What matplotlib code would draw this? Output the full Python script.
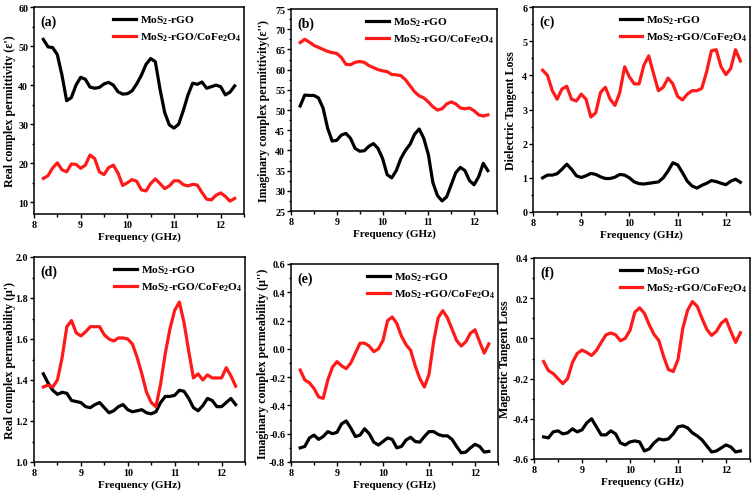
import numpy as np
import matplotlib
matplotlib.use('Agg')
import matplotlib.pyplot as plt
from matplotlib.ticker import MultipleLocator, AutoMinorLocator

plt.rcParams['font.family'] = ['Liberation Serif', 'DejaVu Serif']
plt.rcParams['font.weight'] = 'bold'
plt.rcParams['mathtext.fontset'] = 'custom'
plt.rcParams['mathtext.rm'] = 'Liberation Serif:bold'
plt.rcParams['mathtext.bf'] = 'Liberation Serif:bold'
plt.rcParams['mathtext.default'] = 'bf'
plt.rcParams['axes.unicode_minus'] = False

# frequency grid (GHz)
freq = [8.2, 8.3, 8.4, 8.5, 8.6, 8.7, 8.8, 8.9, 9.0, 9.1, 9.2, 9.3, 9.4, 9.5,
        9.6, 9.7, 9.8, 9.9, 10.0, 10.1, 10.2, 10.3, 10.4, 10.5, 10.6, 10.7,
        10.8, 10.9, 11.0, 11.1, 11.2, 11.3, 11.4, 11.5, 11.6, 11.7, 11.8, 11.9,
        12.0, 12.1, 12.2, 12.3]

# (a) real permittivity
eps1_mos = [51.7, 49.8, 49.6, 47.8, 42.5, 36.0, 36.8, 40.0, 42.0, 41.5, 39.5,
            39.2, 39.4, 40.3, 40.7, 40.0, 38.3, 37.7, 37.8, 38.5, 40.3, 42.5,
            45.3, 46.8, 46.0, 39.0, 33.0, 29.8, 29.0, 30.0, 33.5, 37.5, 40.5,
            40.2, 40.8, 39.2, 39.6, 40.0, 39.6, 37.5, 38.2, 39.8]
eps1_cfo = [16.1, 16.8, 18.8, 20.1, 18.3, 17.8, 19.8, 19.7, 18.7, 19.5, 22.1,
            21.2, 17.8, 17.1, 18.9, 19.5, 17.5, 14.3, 15.0, 15.8, 15.4, 13.2,
            12.9, 14.8, 16.0, 14.8, 13.5, 14.2, 15.5, 15.5, 14.5, 14.2, 14.6,
            14.4, 12.5, 10.8, 10.6, 11.8, 12.4, 11.5, 10.3, 11.0]

# (b) imaginary permittivity
eps2_mos = [51.0, 53.7, 53.6, 53.6, 53.0, 50.5, 45.5, 42.3, 42.5, 43.8, 44.2,
            43.0, 40.5, 39.8, 39.9, 41.0, 41.7, 40.5, 38.0, 34.0, 33.2, 35.0,
            38.0, 40.0, 41.5, 44.0, 45.3, 43.0, 39.0, 32.0, 28.8, 27.5, 28.5,
            31.5, 34.5, 35.8, 35.0, 32.5, 31.5, 33.5, 36.8, 35.0]
eps2_cfo = [66.7, 67.5, 66.8, 66.0, 65.5, 65.0, 64.5, 64.2, 64.0, 63.0, 61.3,
            61.2, 61.8, 62.0, 61.8, 61.0, 60.5, 60.0, 59.7, 59.5, 58.8, 58.7,
            58.5, 57.5, 56.0, 54.5, 53.5, 53.0, 52.0, 50.8, 50.0, 50.3, 51.5,
            52.0, 51.5, 50.5, 50.3, 50.5, 49.8, 48.8, 48.5, 48.8]

# (c) dielectric loss tangent
tan_e_mos = [1.0, 1.08, 1.08, 1.12, 1.25, 1.4, 1.25, 1.06, 1.01, 1.06, 1.13,
             1.1, 1.03, 0.98, 0.98, 1.02, 1.1, 1.08, 1.0, 0.88, 0.83, 0.82,
             0.84, 0.86, 0.88, 1.0, 1.2, 1.44, 1.38, 1.15, 0.9, 0.76, 0.7,
             0.78, 0.84, 0.92, 0.89, 0.84, 0.8, 0.9, 0.96, 0.87]
tan_e_cfo = [4.15, 4.0, 3.55, 3.3, 3.6, 3.68, 3.3, 3.25, 3.45, 3.3, 2.78, 2.9,
             3.5, 3.65, 3.3, 3.12, 3.5, 4.25, 3.95, 3.75, 3.75, 4.3, 4.57,
             4.05, 3.55, 3.65, 3.92, 3.75, 3.38, 3.28, 3.45, 3.55, 3.55, 3.62,
             4.1, 4.72, 4.75, 4.25, 4.02, 4.2, 4.75, 4.42]

# (d) real permeability
mu1_mos = [1.43, 1.385, 1.35, 1.33, 1.34, 1.335, 1.30, 1.295, 1.29, 1.27,
           1.265, 1.28, 1.29, 1.265, 1.24, 1.25, 1.27, 1.28, 1.255, 1.245,
           1.25, 1.255, 1.24, 1.235, 1.245, 1.29, 1.32, 1.32, 1.325, 1.35,
           1.345, 1.31, 1.265, 1.25, 1.275, 1.31, 1.30, 1.27, 1.27, 1.29,
           1.31, 1.28]
mu1_cfo = [1.366, 1.375, 1.366, 1.40, 1.51, 1.66, 1.69, 1.63, 1.615, 1.635,
           1.66, 1.66, 1.66, 1.62, 1.60, 1.59, 1.605, 1.605, 1.60, 1.575, 1.51,
           1.43, 1.34, 1.29, 1.27, 1.38, 1.53, 1.65, 1.74, 1.78, 1.68, 1.54,
           1.41, 1.43, 1.40, 1.425, 1.41, 1.41, 1.41, 1.46, 1.42, 1.37]

# (e) imaginary permeability
mu2_mos = [-0.70, -0.69, -0.63, -0.61, -0.64, -0.62, -0.585, -0.60, -0.59,
           -0.53, -0.51, -0.56, -0.62, -0.61, -0.565, -0.60, -0.66, -0.68,
           -0.655, -0.63, -0.64, -0.70, -0.69, -0.645, -0.625, -0.655, -0.66,
           -0.62, -0.585, -0.585, -0.605, -0.615, -0.615, -0.64, -0.69,
           -0.735, -0.73, -0.70, -0.675, -0.69, -0.73, -0.725]
mu2_cfo = [-0.15, -0.22, -0.24, -0.28, -0.34, -0.35, -0.22, -0.13, -0.09,
           -0.12, -0.14, -0.10, -0.03, 0.04, 0.04, 0.02, -0.02, 0.0, 0.06,
           0.20, 0.225, 0.18, 0.09, 0.03, -0.01, -0.12, -0.21, -0.27, -0.18,
           0.05, 0.22, 0.27, 0.22, 0.14, 0.06, 0.02, 0.05, 0.11, 0.135, 0.05,
           -0.03, 0.035]

# (f) magnetic loss tangent
tan_m_mos = [-0.49, -0.495, -0.465, -0.46, -0.475, -0.47, -0.45, -0.465,
             -0.455, -0.42, -0.4, -0.44, -0.48, -0.48, -0.46, -0.475, -0.52,
             -0.53, -0.515, -0.51, -0.515, -0.56, -0.55, -0.52, -0.5, -0.505,
             -0.5, -0.475, -0.44, -0.435, -0.445, -0.47, -0.485, -0.505,
             -0.535, -0.565, -0.56, -0.545, -0.53, -0.54, -0.565, -0.56]
tan_m_cfo = [-0.115, -0.16, -0.175, -0.20, -0.225, -0.2, -0.12, -0.075,
             -0.058, -0.07, -0.085, -0.06, -0.02, 0.018, 0.027, 0.018, -0.012,
             0.0, 0.04, 0.13, 0.152, 0.125, 0.068, 0.02, -0.01, -0.09, -0.155,
             -0.165, -0.105, 0.05, 0.14, 0.183, 0.16, 0.1, 0.045, 0.015, 0.035,
             0.075, 0.095, 0.035, -0.02, 0.028]

lab_mos = r'MoS$_2$-rGO'
lab_cfo = r'MoS$_2$-rGO/CoFe$_2$O$_4$'

W, H = 755, 502
# panel boxes in pixels: left, top, right, bottom, ylabel x (right side of text)
boxes = [(34, 8, 244, 215, 16), (291, 10, 497, 212, 270),
         (533, 8, 750, 213, 517), (34, 258, 245, 463, 16),
         (291, 265, 498, 463, 269), (534, 259, 750, 460, 511)]

panels = [
    ('(a)', eps1_mos, eps1_cfo, "Real complex permittivity (\u03b5')", (7, 60), 10),
    ('(b)', eps2_mos, eps2_cfo, "Imaginary complex permittivity(\u03b5'')", (25, 75), 5),
    ('(c)', tan_e_mos, tan_e_cfo, 'Dielectric Tangent Loss', (0, 6), 1),
    ('(d)', mu1_mos, mu1_cfo, "Real complex permeability (\u03bc')", (1.0, 2.0), 0.2),
    ('(e)', mu2_mos, mu2_cfo, "Imaginary complex permeability (\u03bc'')", (-0.8, 0.6), 0.2),
    ('(f)', tan_m_mos, tan_m_cfo, 'Magnetic Tangent Loss', (-0.6, 0.4), 0.2),
]

fig = plt.figure(figsize=(W / 100, H / 100), dpi=100)

for (l, t, r, b, lx), (tag, ys1, ys2, ylab, ylim, step) in zip(boxes, panels):
    ax = fig.add_axes([l / W, 1 - b / H, (r - l) / W, (b - t) / H])
    ax.plot(freq, ys1, color='black', lw=2.3, label=lab_mos)
    ax.plot(freq, ys2, color='#ff1a1a', lw=2.3, label=lab_cfo)
    ax.set_xlim(8, 12.5)
    ax.set_ylim(*ylim)
    ax.xaxis.set_major_locator(MultipleLocator(1))
    ax.yaxis.set_major_locator(MultipleLocator(step))
    ax.xaxis.set_minor_locator(AutoMinorLocator(2))
    ax.yaxis.set_minor_locator(AutoMinorLocator(2))
    if step < 1:
        ax.yaxis.set_major_formatter(plt.FormatStrFormatter('%.1f'))
    ax.tick_params(which='both', direction='out', labelsize=7.2, width=1,
                   pad=1.2)
    ax.tick_params(which='major', length=3)
    ax.tick_params(which='minor', length=1.8)
    for s in ax.spines.values():
        s.set_linewidth(1.1)
    ax.set_xlabel('Frequency (GHz)', fontsize=8, fontweight='bold', labelpad=2)
    ax.set_ylabel(ylab, fontsize=8.6, fontweight='bold')
    ax.yaxis.set_label_coords((lx - l) / (r - l), 0.5)
    ax.text(0.03, 0.93, tag, transform=ax.transAxes, fontsize=10,
            fontweight='bold', va='center')
    ax.legend(loc='upper right', frameon=False, fontsize=8.2, handlelength=2.0,
              handletextpad=0.3, borderaxespad=0.2, labelspacing=0.4,
              bbox_to_anchor=(1.02, 1.0))

fig.savefig('out.png', dpi=100)
